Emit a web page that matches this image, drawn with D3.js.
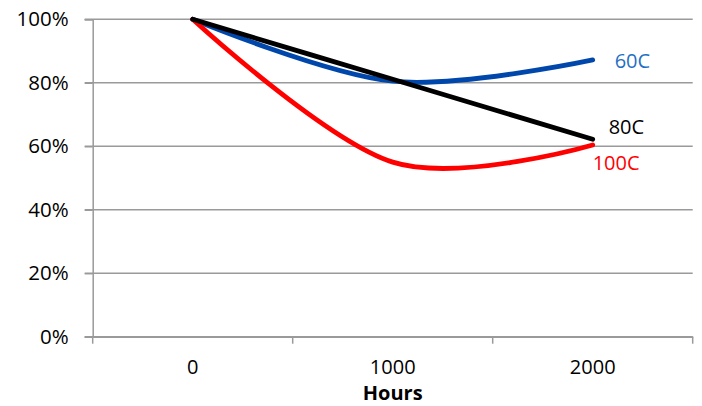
<!DOCTYPE html>
<html>
<head>
<meta charset="utf-8">
<script src="https://cdn.jsdelivr.net/npm/d3@7"></script>
<style>
  html, body { margin: 0; padding: 0; background: #fff; }
  svg { display: block; }
  text { font-family: "Open Sans", "Liberation Sans", sans-serif; }
</style>
</head>
<body>
<svg id="chart" width="702" height="406"></svg>
<script>
const categories = ["0", "1000", "2000"];
const yTicks = [0, 0.2, 0.4, 0.6, 0.8, 1.0];
const seriesNames = ["60C", "80C", "100C"];
const values60 = [1.00, 0.805, 0.872];
const values80 = [1.00, 0.811, 0.622];
const values100 = [1.00, 0.55, 0.604];
const xTitle = "Hours";

(function () {
const series = [
  { name: seriesNames[0], values: values60, line: "#0047AB", label: "#1F6FC6", dx: 22, dy: 1 },
  { name: seriesNames[1], values: values80, line: "#000000", label: "#000000", dx: 16, dy: -13 },
  { name: seriesNames[2], values: values100, line: "#FF0000", label: "#FF0000", dx: 0, dy: 18 }
];

const svg = d3.select("#chart");
const mLeft = 92.7, mRight = 692.7, mTop = 19.3, mBottom = 336.7;

const x = d3.scaleBand().domain(categories).range([mLeft, mRight]).padding(0);
const y = d3.scaleLinear().domain([0, 1]).range([mBottom, mTop]);

// gridlines
svg.append("g").selectAll("line").data(yTicks).join("line")
  .attr("x1", mLeft - 8).attr("x2", mRight)
  .attr("y1", d => y(d)).attr("y2", d => y(d))
  .attr("stroke", "#9a9a9a").attr("stroke-width", 1.5);

// y axis
const yAxis = svg.append("g").attr("transform", `translate(${mLeft},0)`)
  .call(d3.axisLeft(y).tickValues(yTicks).tickFormat(d3.format(".0%")).tickSize(8).tickPadding(16));
yAxis.select(".domain").attr("stroke", "#9a9a9a").attr("stroke-width", 1.5);
yAxis.selectAll(".tick line").attr("stroke", "#9a9a9a").attr("stroke-width", 1.5);
yAxis.selectAll("text").attr("font-size", 20.5).attr("fill", "#000")
  .attr("font-family", "'Open Sans', sans-serif");

// x axis
const xAxis = svg.append("g").attr("transform", `translate(0,${mBottom})`)
  .call(d3.axisBottom(x).tickSize(0).tickPadding(23));
xAxis.select(".domain").attr("stroke", "#9a9a9a").attr("stroke-width", 1.5);
xAxis.selectAll("text").attr("font-size", 20).attr("fill", "#000")
  .attr("font-family", "'Open Sans', sans-serif");

// category boundary ticks
const edges = categories.map(c => x(c)).concat([x(categories[categories.length - 1]) + x.bandwidth()]);
svg.append("g").selectAll("line").data(edges).join("line")
  .attr("x1", d => d).attr("x2", d => d)
  .attr("y1", mBottom).attr("y2", mBottom + 7)
  .attr("stroke", "#9a9a9a").attr("stroke-width", 1.5);

// x title
svg.append("text")
  .attr("x", (mLeft + mRight) / 2).attr("y", 400)
  .attr("text-anchor", "middle")
  .attr("font-size", 20).attr("font-weight", "bold")
  .text(xTitle);

// lines
const line = d3.line()
  .x((d, i) => x(categories[i]) + x.bandwidth() / 2)
  .y(d => y(d))
  .curve(d3.curveCardinal.tension(0));

const order = [series[0], series[2], series[1]];
svg.append("g").selectAll("path").data(order).join("path")
  .attr("d", d => line(d.values))
  .attr("fill", "none")
  .attr("stroke", d => d.line)
  .attr("stroke-width", 4.8)
  .attr("stroke-linecap", "round")
  .attr("stroke-linejoin", "round");

// end labels
svg.append("g").selectAll("text").data(series).join("text")
  .attr("x", d => x(categories[categories.length - 1]) + x.bandwidth() / 2 + d.dx)
  .attr("y", d => y(d.values[d.values.length - 1]) + d.dy)
  .attr("dominant-baseline", "central")
  .attr("font-size", 20)
  .attr("fill", d => d.label)
  .text(d => d.name);
})();
</script>
</body>
</html>
